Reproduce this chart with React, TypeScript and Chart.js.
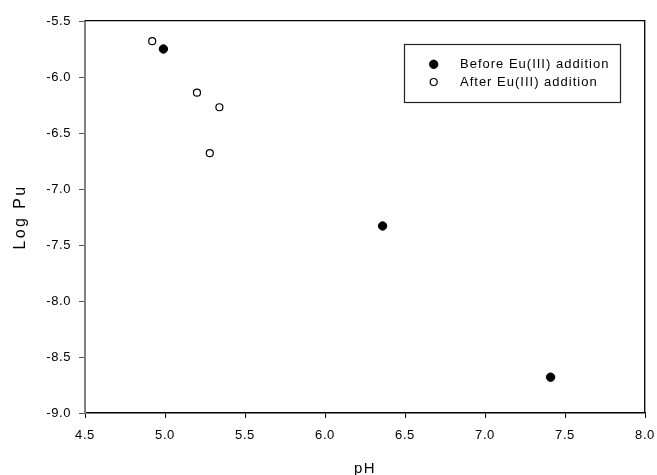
import React, { useEffect, useRef } from 'react';
import { Chart, registerables } from 'chart.js';

Chart.register(...registerables);

// ---- data ----
const beforeLabel = 'Before Eu(III) addition';
const afterLabel = 'After Eu(III) addition';
const beforePH = [4.99, 6.36, 7.41];
const beforeLogPu = [-5.75, -7.33, -8.68];
const afterPH = [4.92, 5.2, 5.34, 5.28];
const afterLogPu = [-5.68, -6.14, -6.27, -6.68];
const xTitle = 'pH';
const yTitle = 'Log Pu';
const xMin = 4.5;
const xMax = 8.0;
const yMin = -9.0;
const yMax = -5.5;
const tickStep = 0.5;

const FONT = '"Liberation Sans", Arial, Helvetica, sans-serif';

function withSpacing(scale: any, name: string, spacing: string) {
  const orig = scale[name];
  if (!orig || orig.__patched) return;
  const f: any = function (this: any, ...args: any[]) {
    const ctx = this.ctx;
    const prev = ctx.letterSpacing;
    ctx.letterSpacing = spacing;
    try {
      return orig.apply(this, args);
    } finally {
      ctx.letterSpacing = prev;
    }
  };
  f.__patched = true;
  scale[name] = f;
}

const spacingPlugin = {
  id: 'spacingPlugin',
  beforeDraw(chart: any) {
    const x = chart.scales.x;
    const y = chart.scales.y;
    withSpacing(x, 'drawLabels', '0.6px');
    withSpacing(y, 'drawLabels', '0.6px');
    withSpacing(x, 'drawTitle', '1.5px');
    withSpacing(y, 'drawTitle', '2.4px');
  },
};

const framePlugin = {
  id: 'framePlugin',
  beforeDatasetsDraw(chart: any) {
    const { ctx, chartArea } = chart;
    ctx.save();
    ctx.strokeStyle = '#000';
    ctx.lineWidth = 1.3;
    ctx.beginPath();
    ctx.moveTo(chartArea.left, chartArea.top - 0.3);
    ctx.lineTo(chartArea.right - 0.3, chartArea.top - 0.3);
    ctx.lineTo(chartArea.right - 0.3, chartArea.bottom);
    ctx.stroke();
    ctx.restore();
  },
};

const boxLegendPlugin = {
  id: 'boxLegend',
  afterDatasetsDraw(chart: any) {
    const { ctx, chartArea } = chart;
    const left = chartArea.right - 240.5;
    const top = chartArea.top + 23.5;
    const w = 216;
    const h = 58;
    ctx.save();
    ctx.strokeStyle = '#222';
    ctx.lineWidth = 1.2;
    ctx.strokeRect(left, top, w, h);
    const markerX = left + 29.2;
    const textX = left + 55.5;
    chart.data.datasets.forEach((ds: any, i: number) => {
      const y = top + 19.8 + i * 17.7;
      ctx.beginPath();
      ctx.arc(markerX, y, ds.pointRadius, 0, Math.PI * 2);
      ctx.fillStyle = ds.pointBackgroundColor;
      ctx.fill();
      ctx.lineWidth = ds.pointBorderWidth;
      ctx.strokeStyle = ds.pointBorderColor;
      ctx.stroke();
      ctx.fillStyle = '#000';
      ctx.font = `13px ${FONT}`;
      (ctx as any).letterSpacing = '1px';
      ctx.textAlign = 'left';
      ctx.textBaseline = 'middle';
      ctx.fillText(ds.label, textX, y + 0.5);
    });
    ctx.restore();
  },
};

export default function App() {
  const canvasRef = useRef<HTMLCanvasElement | null>(null);

  useEffect(() => {
    document.body.style.margin = '0';
    const canvas = canvasRef.current;
    if (!canvas) return;
    const chart = new Chart(canvas, {
      type: 'scatter',
      data: {
        datasets: [
          {
            label: beforeLabel,
            data: beforePH.map((x, i) => ({ x, y: beforeLogPu[i] })),
            pointRadius: 4.2,
            pointBackgroundColor: '#000',
            pointBorderColor: '#000',
            pointBorderWidth: 1,
            showLine: false,
          },
          {
            label: afterLabel,
            data: afterPH.map((x, i) => ({ x, y: afterLogPu[i] })),
            pointRadius: 3.5,
            pointBackgroundColor: '#fff',
            pointBorderColor: '#000',
            pointBorderWidth: 1.2,
            showLine: false,
          },
        ],
      },
      options: {
        responsive: false,
        animation: false,
        devicePixelRatio: 1,
        events: [],
        layout: { padding: { top: 21, right: 12, left: 0, bottom: 0 } },
        font: { family: FONT },
        plugins: {
          legend: { display: false },
          tooltip: { enabled: false },
        },
        scales: {
          x: {
            type: 'linear',
            min: xMin,
            max: xMax,
            afterFit: (scale: any) => {
              scale.height = 62;
              scale.paddingLeft = 0;
              scale.paddingRight = 0;
            },
            border: { display: true, color: '#000', width: 1.5 },
            grid: {
              display: true,
              drawOnChartArea: false,
              drawTicks: true,
              tickLength: 5,
              color: '#000',
              lineWidth: 1,
            },
            ticks: {
              stepSize: tickStep,
              color: '#000',
              padding: 10,
              maxRotation: 0,
              font: { size: 13, family: FONT },
              callback: (v: any) => Number(v).toFixed(1),
            },
            title: {
              display: true,
              text: xTitle,
              color: '#000',
              font: { size: 15, family: FONT, lineHeight: 1 },
              padding: { top: 0, bottom: -1 },
            },
          },
          y: {
            type: 'linear',
            min: yMin,
            max: yMax,
            afterFit: (scale: any) => {
              scale.width = 85;
            },
            border: { display: true, color: '#808080', width: 2 },
            grid: {
              display: true,
              drawOnChartArea: false,
              drawTicks: true,
              tickLength: 6,
              color: '#555',
              lineWidth: 1,
            },
            ticks: {
              stepSize: tickStep,
              color: '#000',
              padding: 8,
              font: { size: 13, family: FONT },
              callback: (v: any) => Number(v).toFixed(1),
            },
            title: {
              display: true,
              text: yTitle,
              color: '#000',
              font: { size: 16, family: FONT, lineHeight: 1 },
              padding: { top: 13, bottom: 0 },
            },
          },
        },
      } as any,
      plugins: [spacingPlugin, framePlugin, boxLegendPlugin],
    });
    return () => {
      chart.destroy();
    };
  }, []);

  return (
    <div style={{ width: 657, height: 475, position: 'relative', background: '#fff' }}>
      <canvas ref={canvasRef} width={657} height={475} style={{ display: 'block' }} />
    </div>
  );
}
